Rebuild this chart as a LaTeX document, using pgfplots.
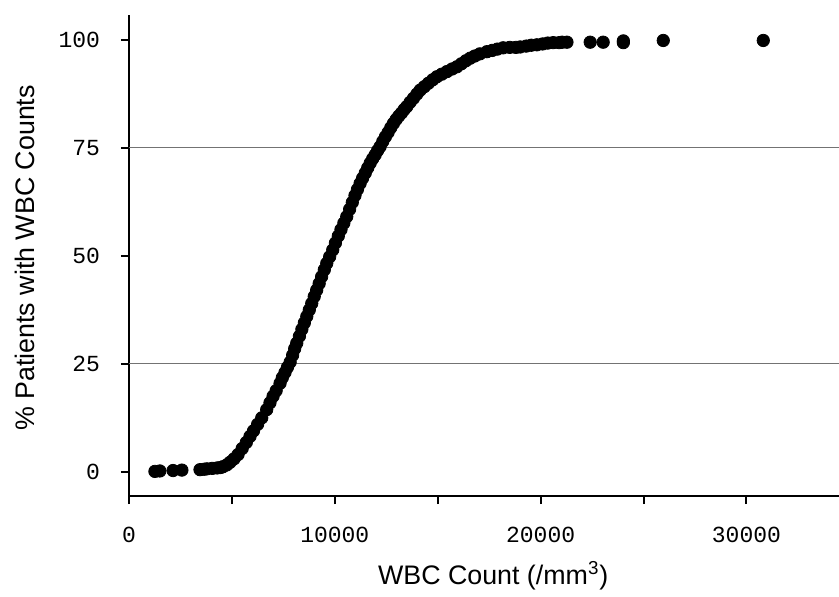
\documentclass[border=0pt]{standalone}
\usepackage{fontspec}
\setmainfont{Liberation Sans}
\newfontfamily\mono{Liberation Mono}
\usepackage{pgfplots}
\pgfplotsset{compat=1.18}

% cumulative % of patients against WBC count
\pgfplotstableread{
x y
1260 0.1
1500 0.2
2140 0.3
2570 0.4
3450 0.5
3650 0.6
3790 0.7
4050 0.8
4280 0.9
4450 1.0
4570 1.2
4750 1.6
4910 2.2
5100 3.0
5300 4.0
5500 5.4
5700 6.8
5880 8.2
6050 9.5
6250 11.0
6450 12.5
6690 14.4
6850 16.0
7000 17.5
7150 18.8
7340 20.5
7450 21.8
7580 23.0
7700 24.2
7830 25.4
7950 27.0
8050 28.5
8150 29.8
8280 31.4
8400 33.0
8520 34.5
8640 36.0
8760 37.5
8880 39.0
9000 40.6
9120 42.1
9240 43.6
9360 45.2
9490 46.8
9610 48.3
9750 49.8
9900 51.4
10030 53.0
10170 54.6
10300 56.1
10440 57.6
10580 59.1
10720 60.8
10850 62.4
10980 64.0
11100 65.4
11230 66.8
11350 68.0
11480 69.2
11600 70.4
11720 71.5
11840 72.5
11960 73.4
12080 74.4
12200 75.3
12330 76.5
12460 77.6
12590 78.6
12720 79.7
12850 80.7
12980 81.6
13110 82.4
13240 83.1
13370 83.9
13500 84.6
13660 85.6
13820 86.5
13990 87.5
14150 88.4
14350 89.2
14550 90.0
14760 90.8
14960 91.5
15200 92.1
15450 92.7
15700 93.3
15930 93.8
16150 94.5
16370 95.2
16580 95.8
16800 96.3
17050 96.8
17390 97.3
17650 97.6
17900 97.9
18180 98.2
18500 98.3
18800 98.3
19010 98.4
19300 98.6
19550 98.8
19820 98.9
20100 99.1
20350 99.3
20610 99.4
20900 99.4
21050 99.5
21280 99.5
22410 99.5
23040 99.5
24020 99.4
24020 99.8
25960 99.9
30820 99.9
}\wbc

\begin{document}
\begin{tikzpicture}
\useasboundingbox (0,0) rectangle (419.5pt,298pt);
\begin{axis}[
  at={(64.5pt,50pt)}, anchor=south west,
  scale only axis, width=355pt, height=240.5pt,
  xmin=0, xmax=34500, ymin=-5.6, ymax=105.8,
  scaled x ticks=false, scaled y ticks=false,
  axis x line*=bottom, axis y line*=left,
  axis line style={line width=1pt},
  tick align=outside, major tick length=4pt,
  tick style={line width=1pt, black},
  xtick={0,10000,20000,30000}, xticklabels={0,10000,20000,30000},
  minor xtick={5000,15000,25000},
  minor tick length=4pt,
  ytick={0,25,50,75,100}, yticklabels={0,25,50,75,100},
  extra y ticks={25,75}, extra y tick labels={},
  extra y tick style={ymajorgrids=true, major tick length=0pt},
  major grid style={line width=0.5pt, black!55},
  ticklabel style={font=\mono\fontsize{11.5}{12}\selectfont},
  xticklabel style={yshift=-8pt},
  yticklabel style={xshift=-7pt},
  xlabel={WBC Count (/mm\textsuperscript{3})},
  ylabel={\% Patients with WBC Counts},
  label style={font=\fontsize{13.4}{15}\selectfont},
  xlabel style={at={(axis description cs:0.513,-0.166)}, anchor=center},
  ylabel style={at={(axis description cs:-0.146,0.495)}, anchor=center},
  clip=false,
]
\addplot[only marks, mark=*, mark size=3.1pt, black] table[x=x, y=y] {\wbc};
\end{axis}
\end{tikzpicture}
\end{document}
